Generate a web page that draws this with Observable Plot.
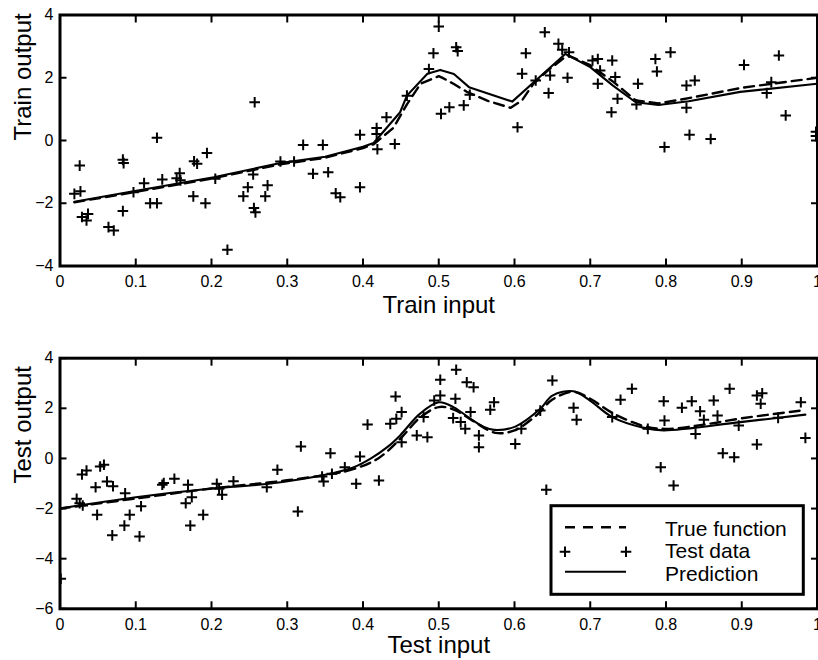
<!DOCTYPE html>
<html>
<head>
<meta charset="utf-8">
<script src="https://cdn.jsdelivr.net/npm/d3@7"></script>
<script src="https://cdn.jsdelivr.net/npm/@observablehq/plot@0.6"></script>
<style>
  body { margin: 0; background: #fff; }
  #chart { position: relative; width: 818px; height: 660px; background: #fff;
           font-family: "Liberation Sans", Arial, Helvetica, sans-serif; }
  #chart svg { display: block; }
  #legend { position: absolute; left: 548px; top: 502px; }
</style>
</head>
<body>
<div id="chart"></div>
<script>
// ---- axis ticks ----
const xTicks = [0, 0.1, 0.2, 0.3, 0.4, 0.5, 0.6, 0.7, 0.8, 0.9, 1];
const trainYTicks = [-4, -2, 0, 2, 4];
const testYTicks = [-6, -4, -2, 0, 2, 4];

// ---- training samples ----
const trainX = [0.026,0.019,0.027,0.029,0.037,0.035,0.064,0.071,0.083,0.084,0.083,0.097,0.111,0.119,0.128,0.128,0.135,0.158,0.159,0.154,
  0.176,0.177,0.181,0.194,0.192,0.205,0.221,0.242,0.248,0.257,0.255,0.256,0.258,0.271,0.274,0.291,0.309,0.321,0.347,0.334,
  0.354,0.364,0.370,0.396,0.396,0.418,0.418,0.419,0.431,0.442,0.458,0.487,0.493,0.500,0.503,0.514,0.523,0.525,0.533,0.541,
  0.604,0.610,0.615,0.628,0.640,0.647,0.645,0.658,0.663,0.672,0.670,0.703,0.710,0.713,0.710,0.729,0.733,0.736,0.728,0.763,
  0.761,0.786,0.788,0.806,0.798,0.827,0.838,0.827,0.831,0.859,0.903,0.949,0.939,0.933,0.958,0.998,0.998];
const trainY = [-0.80,-1.70,-1.62,-2.44,-2.34,-2.55,-2.76,-2.87,-0.61,-0.72,-2.25,-1.65,-1.36,-2.00,-2.00,0.09,-1.24,-1.04,-1.27,-1.20,
  -1.78,-0.66,-0.74,-0.40,-2.00,-1.22,-3.48,-1.78,-1.49,1.22,-1.08,-2.15,-2.29,-1.78,-1.43,-0.67,-0.67,-0.14,-0.14,-1.06,
  -1.01,-1.68,-1.81,0.18,-1.49,0.40,0.21,-0.28,0.74,-0.11,1.43,2.28,2.78,3.63,0.85,1.06,2.97,2.85,1.12,1.46,
  0.42,2.13,2.78,1.91,3.45,2.07,1.51,3.08,2.89,2.81,2.00,2.55,2.60,2.23,1.81,2.55,2.02,1.33,0.90,1.81,
  1.15,2.60,2.20,2.81,-0.21,1.75,1.91,1.04,0.18,0.05,2.41,2.71,1.86,1.51,0.80,0.28,0.14];

// ---- curves over the training inputs ----
const trainTrueX = [0.019,0.097,0.203,0.291,0.35,0.40,0.414,0.44,0.458,0.476,0.50,0.507,0.52,0.538,0.564,0.595,0.610,0.625,0.645,0.67,0.70,0.731,0.76,0.79,0.83,0.90,1.0];
const trainTrueY = [-1.97,-1.65,-1.20,-0.76,-0.55,-0.24,-0.12,0.40,1.15,1.81,2.05,1.97,1.80,1.54,1.27,1.04,1.28,1.81,2.25,2.72,2.40,1.86,1.28,1.18,1.35,1.68,2.00];
const trainPredX = [0.019,0.097,0.203,0.291,0.35,0.40,0.414,0.449,0.458,0.485,0.502,0.52,0.540,0.597,0.628,0.667,0.70,0.73,0.76,0.79,0.83,0.898,1.0];
const trainPredY = [-1.95,-1.62,-1.17,-0.72,-0.52,-0.20,-0.08,0.90,1.43,2.13,2.25,2.12,1.70,1.24,1.91,2.76,2.34,1.75,1.22,1.13,1.25,1.55,1.81];

// ---- test samples ----
const testX = [0.001,0.022,0.026,0.030,0.029,0.035,0.047,0.049,0.053,0.058,0.062,0.070,0.069,0.086,0.085,0.092,0.107,0.105,0.135,0.137,
  0.151,0.169,0.166,0.174,0.172,0.189,0.207,0.214,0.210,0.229,0.273,0.287,0.318,0.314,0.348,0.346,0.357,0.359,0.376,0.396,
  0.391,0.406,0.421,0.436,0.443,0.444,0.451,0.451,0.471,0.485,0.480,0.502,0.502,0.494,0.523,0.522,0.537,0.546,0.519,0.529,
  0.535,0.542,0.553,0.553,0.568,0.573,0.601,0.609,0.634,0.642,0.650,0.678,0.682,0.729,0.740,0.755,0.776,0.797,0.798,0.793,
  0.810,0.821,0.834,0.845,0.839,0.850,0.868,0.863,0.875,0.890,0.884,0.896,0.920,0.920,0.927,0.925,0.948,0.978,0.984];
const testY = [-4.80,-1.61,-1.79,-1.88,-0.64,-0.48,-1.15,-2.25,-0.32,-0.25,-0.92,-1.11,-3.07,-1.39,-2.68,-2.25,-1.91,-3.11,-1.05,-0.98,
  -0.81,-1.05,-1.79,-1.55,-2.68,-2.25,-1.01,-1.45,-1.21,-0.91,-1.15,-0.45,0.48,-2.12,-0.92,-0.72,0.21,-0.61,-0.35,0.08,
  -1.01,1.35,-0.88,1.38,2.47,1.58,1.85,0.65,0.92,0.85,1.65,3.14,2.51,2.31,3.54,2.38,3.04,2.84,1.61,1.45,
  1.18,1.85,0.92,0.45,1.94,2.24,0.58,1.18,1.91,-1.25,3.11,2.02,1.54,1.65,2.34,2.78,1.18,2.28,1.51,-0.35,
  -1.08,2.02,2.28,1.88,0.98,1.54,1.71,2.31,0.21,0.05,2.78,1.31,0.56,2.51,2.60,2.18,1.62,2.24,0.82];

// ---- curves over the test inputs ----
const testTrueX = [0.0,0.1,0.2,0.278,0.35,0.388,0.42,0.449,0.475,0.50,0.52,0.545,0.575,0.60,0.63,0.65,0.678,0.70,0.73,0.77,0.80,0.85,0.90,0.978];
const testTrueY = [-2.00,-1.60,-1.20,-0.95,-0.66,-0.42,0.00,0.78,1.62,2.05,1.95,1.50,1.02,1.12,1.75,2.35,2.66,2.38,1.80,1.30,1.18,1.35,1.60,1.91];
const testPredX = [0.0,0.1,0.2,0.278,0.35,0.388,0.410,0.432,0.449,0.475,0.50,0.520,0.542,0.559,0.573,0.601,0.634,0.65,0.678,0.70,0.729,0.771,0.797,0.898,0.984];
const testPredY = [-2.00,-1.55,-1.20,-1.00,-0.65,-0.35,-0.01,0.45,0.92,1.78,2.24,2.04,1.58,1.27,1.14,1.27,1.98,2.51,2.68,2.30,1.65,1.22,1.12,1.45,1.75];

// ---- text ----
const legendLabels = ["True function", "Test data", "Prediction"];
const trainLabels = {x: "Train input", y: "Train output"};
const testLabels = {x: "Test input", y: "Test output"};

const zip = (xs, ys) => xs.map((x, i) => ({x, y: ys[i]}));
const fmt = d3.format("~g");
const FONT = "'Liberation Sans', Arial, Helvetica, sans-serif";

// stroked "+" marker; half-arm length equals the dot radius
const plusMark = {
  draw(ctx, size) {
    const h = Math.sqrt(size / Math.PI);
    ctx.moveTo(-h, 0); ctx.lineTo(h, 0);
    ctx.moveTo(0, -h); ctx.lineTo(0, h);
  }
};

function panel({height, marginTop, marginBottom, yDomain, yTicks, labels, points, trueCurve, predCurve, curve, xLabelDy}) {
  return Plot.plot({
    width: 818, height,
    marginLeft: 59.5, marginRight: 1, marginTop, marginBottom,
    style: {fontFamily: FONT, background: "white", color: "black", overflow: "visible"},
    x: {domain: [0, 1], label: null},
    y: {domain: yDomain, label: null},
    marks: [
      Plot.line(trueCurve, {x: "x", y: "y", stroke: "black", strokeWidth: 2.4, strokeDasharray: "10,6", curve, clip: true}),
      Plot.line(predCurve, {x: "x", y: "y", stroke: "black", strokeWidth: 2.1, curve, clip: true}),
      Plot.dot(points, {x: "x", y: "y", symbol: plusMark, r: 5.3, stroke: "black", strokeWidth: 2, fill: "none", clip: true}),
      Plot.axisX(xTicks, {anchor: "bottom", tickFormat: fmt, tickSize: -7, tickPadding: 16.5, fontSize: 16, strokeWidth: 2, label: null}),
      Plot.axisX(xTicks, {anchor: "top", tickFormat: () => "", tickSize: -7, strokeWidth: 2, label: null}),
      Plot.axisY(yTicks, {anchor: "left", tickFormat: fmt, tickSize: -7, tickPadding: 13.5, fontSize: 16, strokeWidth: 2, label: null}),
      Plot.axisY(yTicks, {anchor: "right", tickFormat: () => "", tickSize: -7, strokeWidth: 2, label: null}),
      Plot.frame({stroke: "black", strokeWidth: 3}),
      Plot.text([labels.x], {text: d => d, frameAnchor: "bottom", dy: xLabelDy, fontSize: 24, lineAnchor: "middle"}),
      Plot.text([labels.y], {text: d => d, frameAnchor: "left", dx: -37, rotate: -90, fontSize: 24, lineAnchor: "middle"})
    ]
  });
}

const chart = document.getElementById("chart");

chart.append(panel({
  height: 320, marginTop: 14.5, marginBottom: 54.5,
  yDomain: [-4, 4], yTicks: trainYTicks, labels: trainLabels,
  points: zip(trainX, trainY),
  trueCurve: zip(trainTrueX, trainTrueY), predCurve: zip(trainPredX, trainPredY),
  curve: "linear", xLabelDy: 39
}));

chart.append(panel({
  height: 340, marginTop: 37.7, marginBottom: 51.7,
  yDomain: [-6, 4], yTicks: testYTicks, labels: testLabels,
  points: zip(testX, testY),
  trueCurve: zip(testTrueX, testTrueY), predCurve: zip(testPredX, testPredY),
  curve: "catmull-rom", xLabelDy: 37
}));

// ---- legend box (lower right of the test panel) ----
const lg = d3.select(chart).append("svg")
  .attr("id", "legend").attr("width", 259).attr("height", 95)
  .style("font-family", FONT);
lg.append("rect").attr("x", 3).attr("y", 3.7).attr("width", 252.3).attr("height", 88.6)
  .attr("fill", "white").attr("stroke", "black").attr("stroke-width", 3);
const rowY = [25.3, 49.7, 69.7];
const baseY = [33.7, 56.3, 78.7];
// dashed sample
lg.append("line").attr("x1", 17).attr("x2", 78).attr("y1", rowY[0]).attr("y2", rowY[0])
  .attr("stroke", "black").attr("stroke-width", 2.4).attr("stroke-dasharray", "10,8");
// marker samples
[17, 78].forEach(cx => {
  lg.append("path").attr("transform", `translate(${cx},${rowY[1]})`)
    .attr("d", "M-5.3,0H5.3M0,-5.3V5.3").attr("stroke", "black").attr("stroke-width", 2).attr("fill", "none");
});
// solid sample
lg.append("line").attr("x1", 17).attr("x2", 78).attr("y1", rowY[2]).attr("y2", rowY[2])
  .attr("stroke", "black").attr("stroke-width", 2.1);
legendLabels.forEach((t, i) => {
  lg.append("text").attr("x", 117).attr("y", baseY[i]).attr("font-size", 21).attr("fill", "black").text(t);
});
</script>
</body>
</html>
